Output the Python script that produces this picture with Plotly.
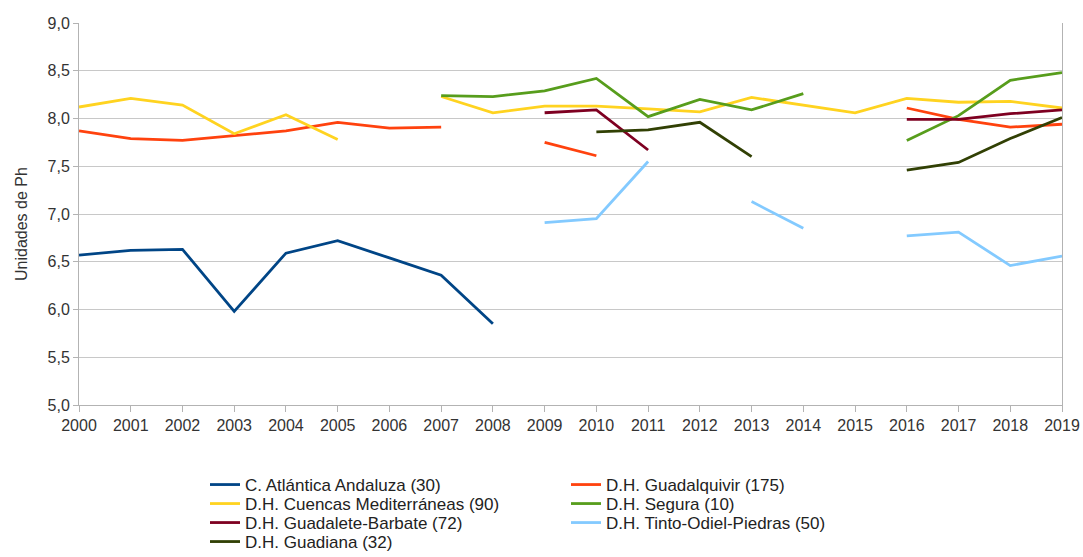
import plotly.graph_objs as go

years = list(range(2000, 2020))

# pH por demarcación (None = sin dato)
atlantica = [6.57, 6.62, 6.63, 5.98, 6.59, 6.72, 6.54, 6.36, 5.85,
             None, None, None, None, None, None, None, None, None, None, None]
guadalquivir = [7.87, 7.79, 7.77, 7.82, 7.87, 7.96, 7.90, 7.91, None,
                7.75, 7.61, None, None, None, None, None, 8.11, 7.99, 7.91, 7.94]
cuencas_med = [8.12, 8.21, 8.14, 7.84, 8.04, 7.78, None, 8.23, 8.06,
               8.13, 8.13, 8.10, 8.07, 8.22, 8.14, 8.06, 8.21, 8.17, 8.18, 8.11]
segura = [None, None, None, None, None, None, None, 8.24, 8.23,
          8.29, 8.42, 8.02, 8.20, 8.09, 8.26, None, 7.77, 8.03, 8.40, 8.48]
guadalete = [None, None, None, None, None, None, None, None, None,
             8.06, 8.09, 7.67, None, None, None, None, 7.99, 7.99, 8.05, 8.09]
tinto_odiel = [None, None, None, None, None, None, None, None, None,
               6.91, 6.95, 7.55, None, 7.13, 6.85, None, 6.77, 6.81, 6.46, 6.56]
guadiana = [None, None, None, None, None, None, None, None, None,
            None, 7.86, 7.88, 7.96, 7.60, None, None, 7.46, 7.54, 7.79, 8.01]

names = [
    "C. Atlántica Andaluza (30)",
    "D.H. Guadalquivir (175)",
    "D.H. Cuencas Mediterráneas (90)",
    "D.H. Segura (10)",
    "D.H. Guadalete-Barbate (72)",
    "D.H. Tinto-Odiel-Piedras (50)",
    "D.H. Guadiana (32)",
]
values = [atlantica, guadalquivir, cuencas_med, segura, guadalete, tinto_odiel, guadiana]
colors = ["#004586", "#ff420e", "#ffd320", "#579d1c", "#7e0021", "#83caff", "#314004"]

font_family = "Liberation Sans, Arial, sans-serif"

# legend laid out like the original: two columns, one legend box per entry
col_x = [205, 566]
row_y = [485, 504, 523, 542]

fig = go.Figure()
legends = {}
for i, (name, vals, color) in enumerate(zip(names, values, colors)):
    key = "legend" if i == 0 else "legend%d" % (i + 1)
    fig.add_trace(
        go.Scatter(
            x=years,
            y=vals,
            name=name,
            mode="lines",
            line=dict(color=color, width=2.8),
            connectgaps=False,
            legend=key,
        )
    )
    legends[key] = dict(
        xref="container",
        yref="container",
        x=col_x[i % 2] / 1083,
        y=1 - row_y[i // 2] / 557,
        xanchor="left",
        yanchor="middle",
        orientation="v",
        font=dict(family=font_family, size=17, color="#222"),
        bgcolor="rgba(0,0,0,0)",
        borderwidth=0,
    )

fig.update_layout(
    width=1083,
    height=557,
    margin=dict(l=79, r=21, t=23, b=152, autoexpand=False),
    paper_bgcolor="white",
    plot_bgcolor="white",
    separators=", ",
    font=dict(family=font_family, size=16, color="#333"),
    showlegend=True,
    **legends,
)

# y-axis title as a rotated annotation so it sits where the original has it
fig.add_annotation(
    text="Unidades de Ph",
    xref="paper",
    yref="paper",
    x=(21 - 79) / 983,
    y=(405 - 224) / 382,
    xanchor="center",
    yanchor="middle",
    textangle=-90,
    showarrow=False,
    font=dict(family=font_family, size=16, color="#333"),
)

fig.update_xaxes(
    range=[2000, 2019],
    tickvals=years,
    ticktext=[str(y) for y in years],
    tickangle=0,
    showgrid=False,
    showline=True,
    linecolor="#b3b3b3",
    linewidth=1,
    ticks="outside",
    ticklen=6,
    tickcolor="#b3b3b3",
    tickfont=dict(size=16, color="#333"),
    zeroline=False,
)
fig.update_yaxes(
    range=[5, 9],
    dtick=0.5,
    tickformat=".1f",
    showgrid=True,
    gridcolor="#c8c8c8",
    gridwidth=1,
    showline=True,
    mirror=True,
    linecolor="#b3b3b3",
    linewidth=1,
    ticks="outside",
    ticklen=5,
    tickcolor="#b3b3b3",
    tickfont=dict(size=16, color="#333"),
    zeroline=False,
)

fig.write_html(
    "out.html",
    config={"displayModeBar": False},
    post_script="document.body.style.margin='0';document.body.style.overflow='hidden';",
)
